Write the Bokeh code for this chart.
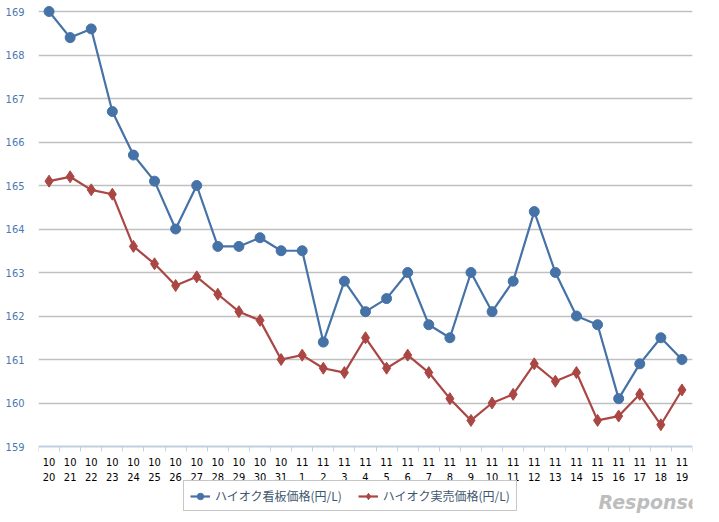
from bokeh.plotting import figure
from bokeh.models import Range1d, FixedTicker, Legend, LegendItem, Label
from bokeh.embed import file_html
from bokeh.resources import INLINE

dates = ["10/20", "10/21", "10/22", "10/23", "10/24", "10/25", "10/26", "10/27",
         "10/28", "10/29", "10/30", "10/31", "11/1", "11/2", "11/3", "11/4",
         "11/5", "11/6", "11/7", "11/8", "11/9", "11/10", "11/11", "11/12",
         "11/13", "11/14", "11/15", "11/16", "11/17", "11/18", "11/19"]
kanban = [169.0, 168.4, 168.6, 166.7, 165.7, 165.1, 164.0, 165.0,
          163.6, 163.6, 163.8, 163.5, 163.5, 161.4, 162.8, 162.1,
          162.4, 163.0, 161.8, 161.5, 163.0, 162.1, 162.8, 164.4,
          163.0, 162.0, 161.8, 160.1, 160.9, 161.5, 161.0]
jitsubai = [165.1, 165.2, 164.9, 164.8, 163.6, 163.2, 162.7, 162.9,
            162.5, 162.1, 161.9, 161.0, 161.1, 160.8, 160.7, 161.5,
            160.8, 161.1, 160.7, 160.1, 159.6, 160.0, 160.2, 160.9,
            160.5, 160.7, 159.6, 159.7, 160.2, 159.5, 160.3]
y_ticks = [159, 160, 161, 162, 163, 164, 165, 166, 167, 168, 169]
series_names = ["ハイオク看板価格(円/L)", "ハイオク実売価格(円/L)"]

BLUE = "#4572A7"
RED = "#AA4643"

x = list(range(len(dates)))
tick_labels = {i: d.replace("/", "\n") for i, d in enumerate(dates)}

# frame spans the whole page height; the date axis is pinned at 159
p = figure(frame_width=654, frame_height=522, output_backend="svg", toolbar_location=None,
           x_range=Range1d(-0.5, len(dates) - 0.5),
           y_range=Range1d(y_ticks[-1] + 0.253 - 12.0, y_ticks[-1] + 0.253),
           min_border_left=38, min_border_right=27, min_border_top=0,
           min_border_bottom=0)
p.outline_line_color = None
p.background_fill_color = "white"

p.xgrid.visible = False
p.ygrid.ticker = FixedTicker(ticks=y_ticks[1:])
p.ygrid.grid_line_color = "#C0C0C0"
p.ygrid.grid_line_width = 1.5

p.yaxis.ticker = FixedTicker(ticks=y_ticks)
p.yaxis.axis_line_color = None
p.yaxis.major_tick_line_color = None
p.yaxis.minor_tick_line_color = None
p.yaxis.major_label_text_color = "#4A78B0"
p.yaxis.major_label_text_font = "DejaVu Sans Condensed"
p.yaxis.major_label_text_font_size = "11px"
p.yaxis.major_label_standoff = 8

xa = p.xaxis[0]
xa.fixed_location = y_ticks[0]
xa.ticker = FixedTicker(ticks=x, minor_ticks=[i - 0.5 for i in range(len(dates) + 1)])
xa.major_label_overrides = tick_labels
xa.axis_line_color = "#C0D0E0"
xa.axis_line_width = 2
xa.major_tick_line_color = None
xa.major_tick_out = 0
xa.minor_tick_line_color = "#C0D0E0"
xa.minor_tick_out = 5
xa.minor_tick_in = 0
xa.major_label_text_color = "#000000"
xa.major_label_text_font = "DejaVu Sans Condensed"
xa.major_label_text_font_size = "11px"
xa.major_label_standoff = 4

l1 = p.line(x, kanban, line_color=BLUE, line_width=2.2)
c1 = p.scatter(x, kanban, marker="circle", size=10, color=BLUE)
l2 = p.line(x, jitsubai, line_color=RED, line_width=2.2)
c2 = p.scatter(x, jitsubai, marker="diamond", size=12, color=RED)

legend = Legend(items=[LegendItem(label=series_names[0], renderers=[l1, c1]),
                       LegendItem(label=series_names[1], renderers=[l2, c2])],
                orientation="horizontal", location=(145, 11),
                border_line_color="#909090", border_line_width=1,
                label_text_font="Noto Sans CJK JP", label_text_font_size="12px",
                label_text_color="#3E576F", glyph_width=20, glyph_height=16,
                spacing=16, padding=6, margin=0)
p.add_layout(legend, "center")

p.add_layout(Label(x=560, y=10, x_units="screen", y_units="screen",
                   text="Response.", text_color="#BDBDBD",
                   text_font="DejaVu Sans", text_font_style="bold italic",
                   text_font_size="19px"))

open("out.html", "w").write(file_html(p, INLINE))
